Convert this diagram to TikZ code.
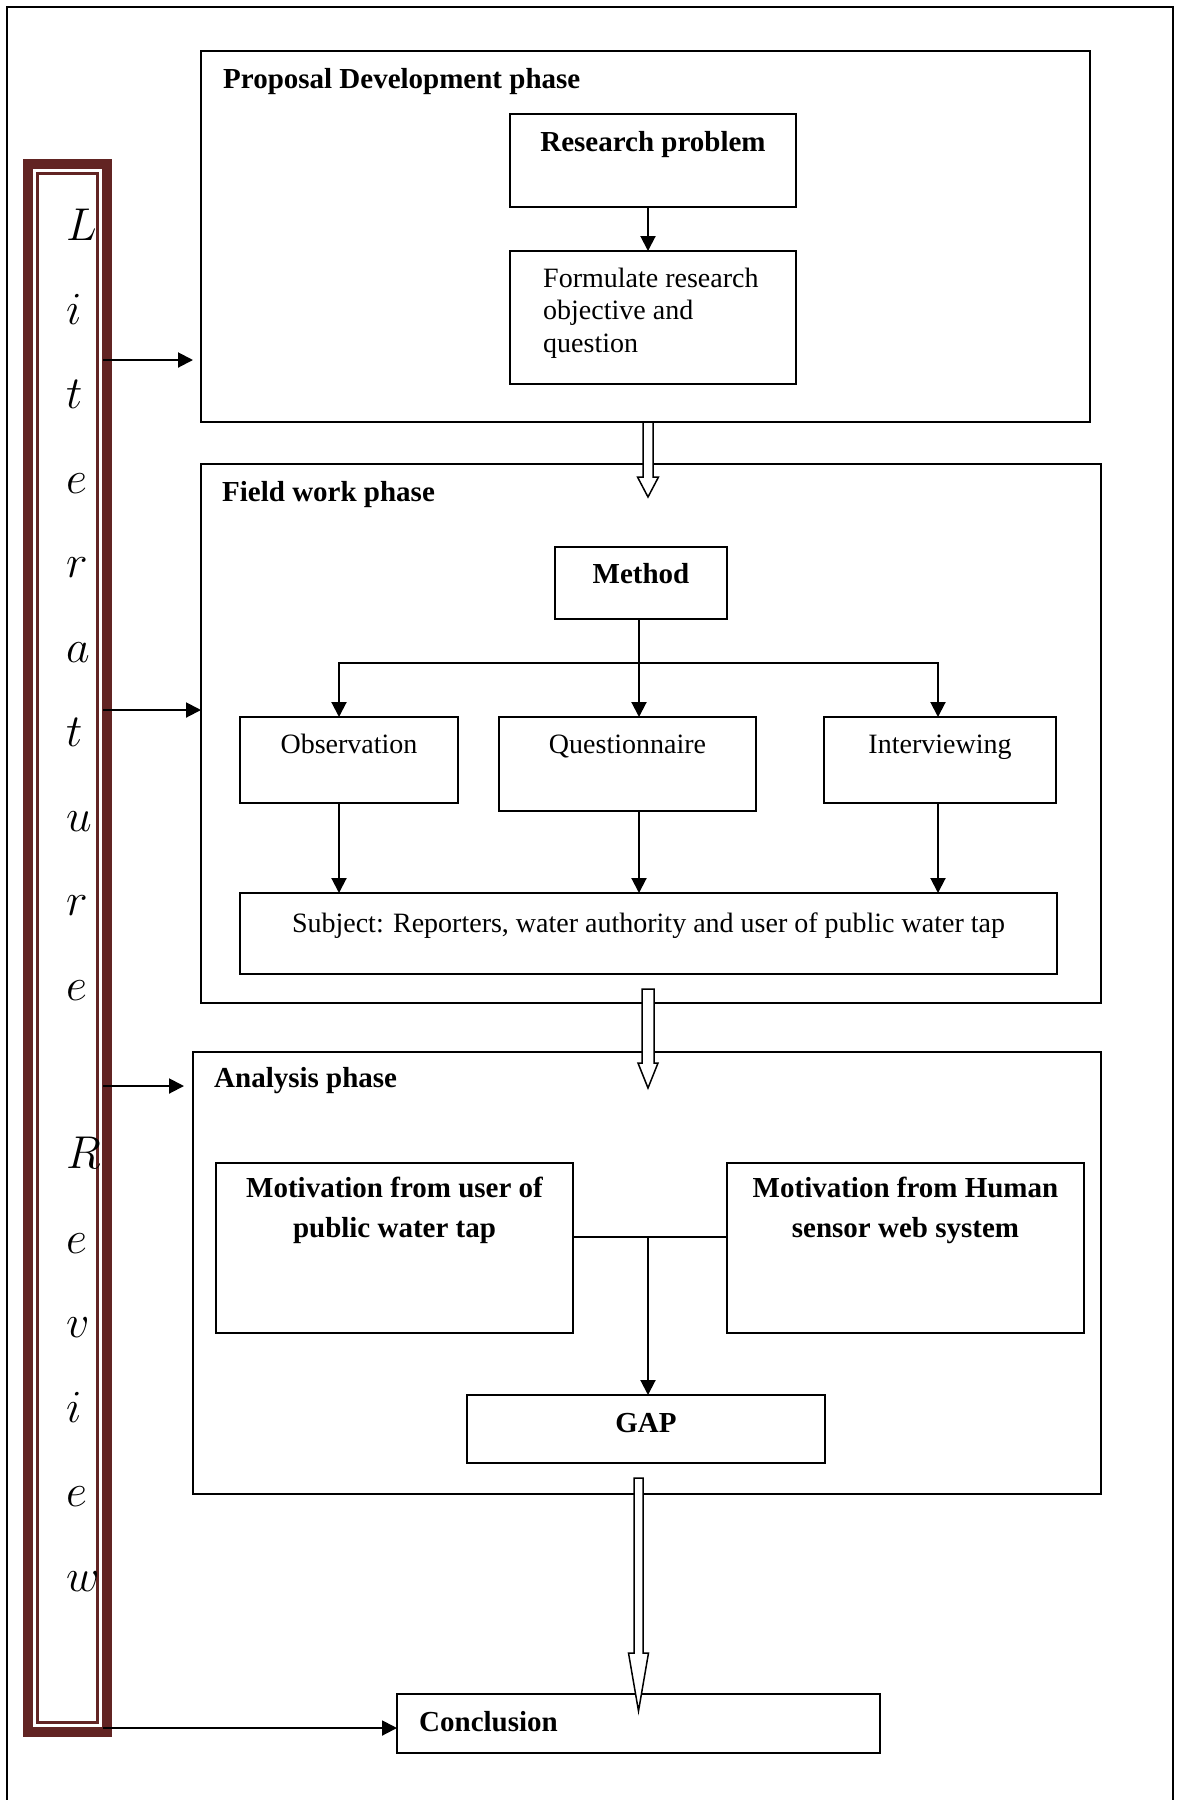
\RequirePackage{fix-cm}
\documentclass[tikz,border=0pt]{standalone}
\usepackage{fontspec}
\setmainfont{Liberation Serif}
\usetikzlibrary{arrows.meta,calc}
\definecolor{litred}{HTML}{622423}

% two centred lines, baseline on the first line
\newcommand\twoline[2]{\vtop{\halign{\hfil##\hfil\cr #1\cr #2\cr}}}
% wide hollow block arrow: x, top, head start, tip, shaft half width, head half width
\newcommand\hollowarrow[6]{%
  \draw[line width=1.5pt, fill=white, line join=miter]
    (#1-#5,#2) -- (#1+#5,#2) -- (#1+#5,#3) -- (#1+#6,#3) -- (#1,#4)
    -- (#1-#6,#3) -- (#1-#5,#3) -- cycle;}

\begin{document}
\begin{tikzpicture}[x=1pt,y=-1pt,
  box/.style={draw, line width=2pt, rectangle, inner sep=0pt, outer sep=0pt},
  hd/.style={inner sep=0pt, font=\fontsize{29}{40}\selectfont\bfseries},
  tx/.style={inner sep=0pt, font=\fontsize{28}{32.5}\selectfont},
  letter/.style={inner sep=0pt, anchor=base west, font=\fontsize{46}{46}\selectfont},
  ln/.style={line width=2pt},
  arr/.style={ln, -{Triangle[length=15pt,width=15pt]}}]

% page area and outer frame
\fill[white] (0,0) rectangle (1176,1800);
\useasboundingbox (0,0) rectangle (1176,1800);
\draw[line width=2.5pt] (7,1800) -- (7,7) -- (1173,7) -- (1173,1800);

% literature review bar
\node[draw=litred, line width=10pt, fill=white, inner sep=0pt, outer sep=0pt,
      minimum width=79pt, minimum height=1568pt] (lit) at (67.5,948) {};
\node[draw=litred, line width=2.5pt, inner sep=0pt, outer sep=0pt,
      minimum width=60pt, minimum height=1549pt] (litin) at (67.5,948) {};
\foreach \c [count=\k] in {L,i,t,e,r,a,t,u,r,e,{},R,e,v,i,e,w}
  \node[letter] (lt\k) at (66,{240+(\k-1)*84.45}) {$\c$};

% proposal development phase
\node[box, minimum width=889pt, minimum height=371pt] (prop) at (645.5,236.5) {};
\node[hd, anchor=base west] (prop-t) at (223,88) {Proposal Development phase};
\node[box, minimum width=286pt, minimum height=93pt] (rp) at (653,160.5) {};
\node[hd, anchor=base] (rp-t) at (653,151) {Research problem};
\node[box, minimum width=286pt, minimum height=133pt] (fo) at (653,317.5) {};
\node[tx, anchor=base west] (fo-t) at (543,287)
  {\vtop{\hbox{Formulate research}\hbox{objective and}\hbox{question}}};

% field work phase
\node[box, minimum width=900pt, minimum height=539pt] (field) at (651,733.5) {};
\node[hd, anchor=base west] (field-t) at (222,501) {Field work phase};
\node[box, minimum width=172pt, minimum height=72pt] (me) at (641,583) {};
\node[hd, anchor=base] (me-t) at (641,583) {Method};
\node[box, minimum width=218pt, minimum height=86pt] (obs) at (349,760) {};
\node[tx, anchor=base] (obs-t) at (349,753) {Observation};
\node[box, minimum width=257pt, minimum height=94pt] (que) at (627.5,764) {};
\node[tx, anchor=base] (que-t) at (627.5,753) {Questionnaire};
\node[box, minimum width=232pt, minimum height=86pt] (int) at (940,760) {};
\node[tx, anchor=base] (int-t) at (940,753) {Interviewing};
\node[box, minimum width=817pt, minimum height=81pt] (sub) at (648.5,933.5) {};
\node[tx, anchor=base] (sub-t) at (648.5,932)
  {Subject: Reporters, water authority and user of public water tap};

% analysis phase
\node[box, minimum width=908pt, minimum height=442pt] (ana) at (647,1273) {};
\node[hd, anchor=base west] (ana-t) at (214,1087) {Analysis phase};
\node[box, minimum width=357pt, minimum height=170pt] (ml) at (394.5,1248) {};
\node[hd, anchor=base] (ml-t) at (394.5,1197)
  {\twoline{Motivation from user of}{public water tap}};
\node[box, minimum width=357pt, minimum height=170pt] (mr) at (905.5,1248) {};
\node[hd, anchor=base] (mr-t) at (905.5,1197)
  {\twoline{Motivation from Human}{sensor web system}};
\node[box, minimum width=358pt, minimum height=68pt] (gap) at (646,1429) {};
\node[hd, anchor=base] (gap-t) at (646,1432) {GAP};

% conclusion
\node[box, minimum width=483pt, minimum height=59pt] (con) at (638.5,1723.5) {};
\node[hd, anchor=base west] (con-t) at (419,1731) {Conclusion};

% connectors inside the phases
\coordinate (colA) at (648,0);
\draw[arr] (rp.south -| colA) -- (fo.north -| colA);

\coordinate (split) at (639,663);
\coordinate (bl) at (339,663);
\coordinate (br) at (938,663);
\draw[arr] (me.south -| split) -- (split |- que.north);
\draw[arr] (split) -| (bl |- obs.north);
\draw[arr] (split) -| (br |- int.north);
\draw[arr] (bl |- obs.south) -- (bl |- sub.north);
\draw[arr] (split |- que.south) -- (split |- sub.north);
\draw[arr] (br |- int.south) -- (br |- sub.north);

\coordinate (jn) at (648,1237);
\draw[ln] (ml.east |- jn) -- (mr.west |- jn);
\draw[arr] (jn) -- (jn |- gap.north);

% arrows from the literature review bar
\coordinate (lf1) at (103,360);
\coordinate (lf2) at (103,710);
\coordinate (lf3) at (103,1086);
\coordinate (lf4) at (103,1728);
\draw[arr] (lf1) -- ($(prop.west |- lf1)+(-8,0)$);
\draw[arr] (lf2) -- (field.west |- lf2);
\draw[arr] (lf3) -- ($(ana.west |- lf3)+(-9,0)$);
\draw[arr] (lf4) -- (con.west |- lf4);

% hollow arrows between the phases
\hollowarrow{648}{422}{477}{497}{5}{10.5}
\hollowarrow{648}{989}{1063}{1088}{6}{10}
\hollowarrow{638.5}{1478}{1653}{1711}{4.5}{10}
\end{tikzpicture}
\end{document}
